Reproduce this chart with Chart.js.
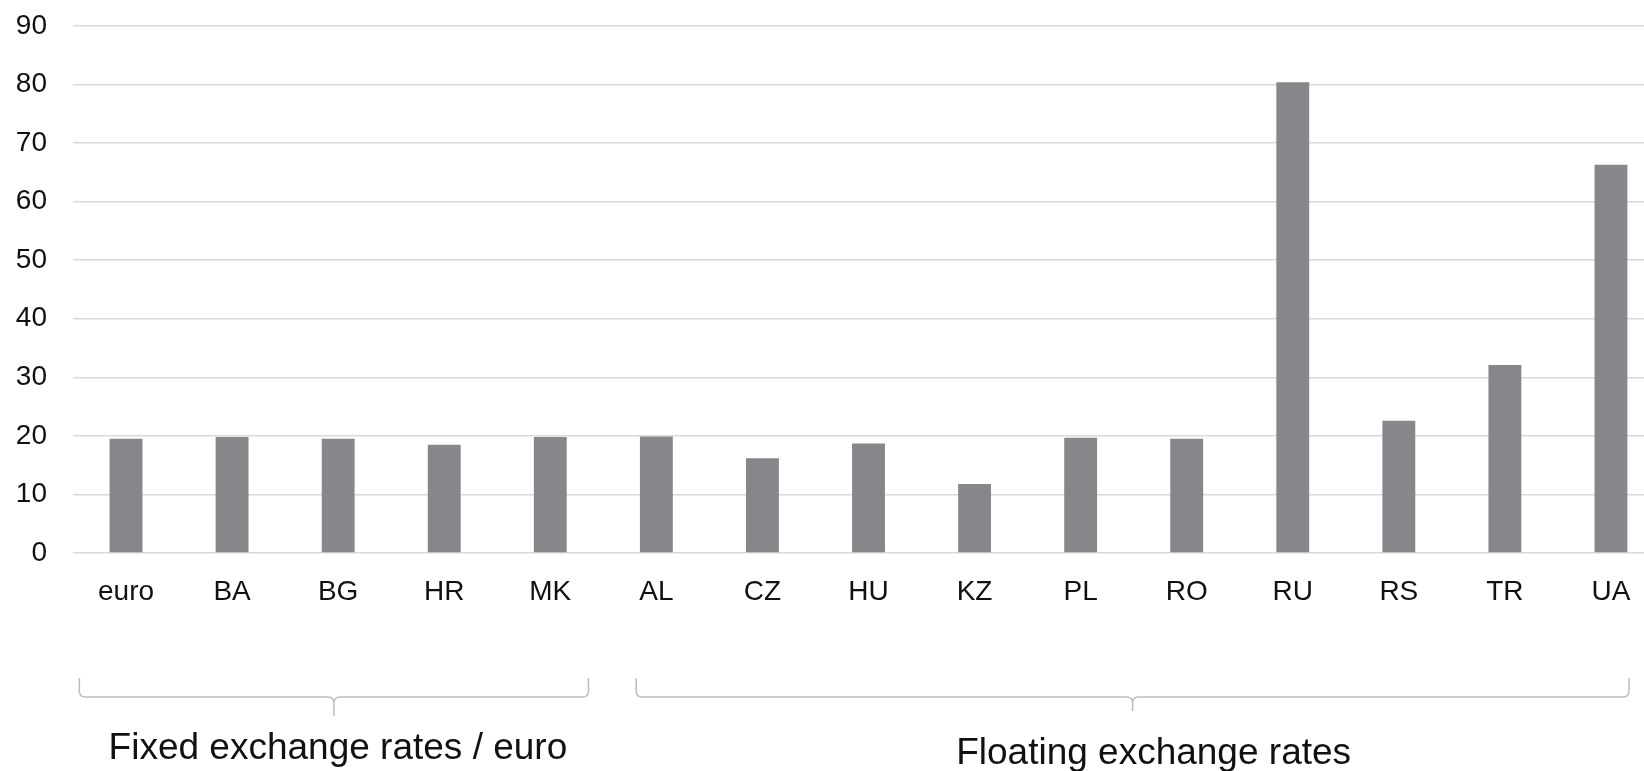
<!DOCTYPE html>
<html>
<head>
<meta charset="utf-8">
<script src="https://cdn.jsdelivr.net/npm/chart.js"></script>
<style>
    html, body { margin: 0; padding: 0; background: #fff; overflow: hidden; }
    #wrap { width: 1664px; height: 771px; }
</style>
</head>
<body>
<div id="wrap"><canvas id="myChart" width="1664" height="771"></canvas></div>
<script>
const labels = ["euro", "BA", "BG", "HR", "MK", "AL", "CZ", "HU", "KZ", "PL", "RO", "RU", "RS", "TR", "UA"];
const values = [19.5, 19.8, 19.5, 18.5, 19.8, 19.9, 16.2, 18.7, 11.8, 19.7, 19.5, 80.4, 22.6, 32.1, 66.3];
const yTicks = [0, 10, 20, 30, 40, 50, 60, 70, 80, 90];

// bracket groups under the category axis (first and last category index)
const groupLabels = ["Fixed exchange rates / euro", "Floating exchange rates"];
const groupStart = [0, 5];
const groupEnd = [4, 14];

const FONT = "'Liberation Sans', Arial, Helvetica, sans-serif";

// draws the curly brackets and the group captions below the x axis
const groupBrackets = {
    id: "groupBrackets",
    afterDraw(chart, args, opts) {
        const ctx = chart.ctx;
        const x = chart.scales.x;
        const step = x.width / labels.length;
        const base = chart.chartArea.bottom;
        const yTop = base + 125, yLine = base + 144, r = 6;

        ctx.save();
        ctx.strokeStyle = "#bdbdbd";
        ctx.lineWidth = 1.5;
        groupLabels.forEach((text, i) => {
            const x0 = x.getPixelForValue(groupStart[i]) - opts.inset[i][0] * step;
            const x1 = x.getPixelForValue(groupEnd[i]) + opts.inset[i][1] * step;
            const xm = (x0 + x1) / 2;
            const yTip = base + opts.tip[i];

            ctx.beginPath();
            ctx.moveTo(x0, yTop);
            ctx.lineTo(x0, yLine - r);
            ctx.quadraticCurveTo(x0, yLine, x0 + r, yLine);
            ctx.lineTo(xm - r, yLine);
            ctx.quadraticCurveTo(xm, yLine, xm, yLine + r);
            ctx.lineTo(xm, yTip);
            ctx.moveTo(xm, yLine + r);
            ctx.quadraticCurveTo(xm, yLine, xm + r, yLine);
            ctx.lineTo(x1 - r, yLine);
            ctx.quadraticCurveTo(x1, yLine, x1, yLine - r);
            ctx.lineTo(x1, yTop);
            ctx.stroke();

            ctx.fillStyle = "#111";
            ctx.font = "37px " + FONT;
            ctx.textAlign = "center";
            ctx.textBaseline = "alphabetic";
            ctx.fillText(text, xm + opts.textShift[i][0], base + opts.textShift[i][1]);
        });
        ctx.restore();
    },
};

const ctx = document.getElementById("myChart");

new Chart(ctx, {
    type: "bar",
    data: {
        labels: labels,
        datasets: [
            {
                data: values,
                backgroundColor: "#87868a",
                borderWidth: 0,
                categoryPercentage: 1,
                barPercentage: 0.31,
            },
        ],
    },
    options: {
        responsive: false,
        animation: false,
        layout: {
            padding: { top: 26, left: 0, right: 0, bottom: 0 },
        },
        plugins: {
            legend: { display: false },
            tooltip: { enabled: false },
            groupBrackets: {
                inset: [[0.44, 0.36], [0.19, 0.17]],
                tip: [163, 158],
                textShift: [[4, 206], [21, 211]],
            },
        },
        scales: {
            x: {
                grid: { display: false },
                border: { display: false },
                ticks: {
                    color: "#111",
                    font: { family: FONT, size: 28 },
                    padding: 14,
                    maxRotation: 0,
                    autoSkip: false,
                },
                afterFit(scale) {
                    scale.height = 218;
                },
            },
            y: {
                min: 0,
                max: 90,
                afterBuildTicks(scale) {
                    scale.ticks = yTicks.map((v) => ({ value: v }));
                },
                grid: {
                    color: "#d9d9d9",
                    lineWidth: 1.5,
                    drawTicks: false,
                },
                border: { display: false },
                ticks: {
                    color: "#111",
                    font: { family: FONT, size: 28 },
                    padding: 26,
                },
                afterFit(scale) {
                    scale.width = 73;
                    // top label needs no extra room, the layout padding covers it
                    scale.paddingTop = 0;
                    scale.paddingBottom = 0;
                },
            },
        },
    },
    plugins: [groupBrackets],
});
</script>
</body>
</html>
